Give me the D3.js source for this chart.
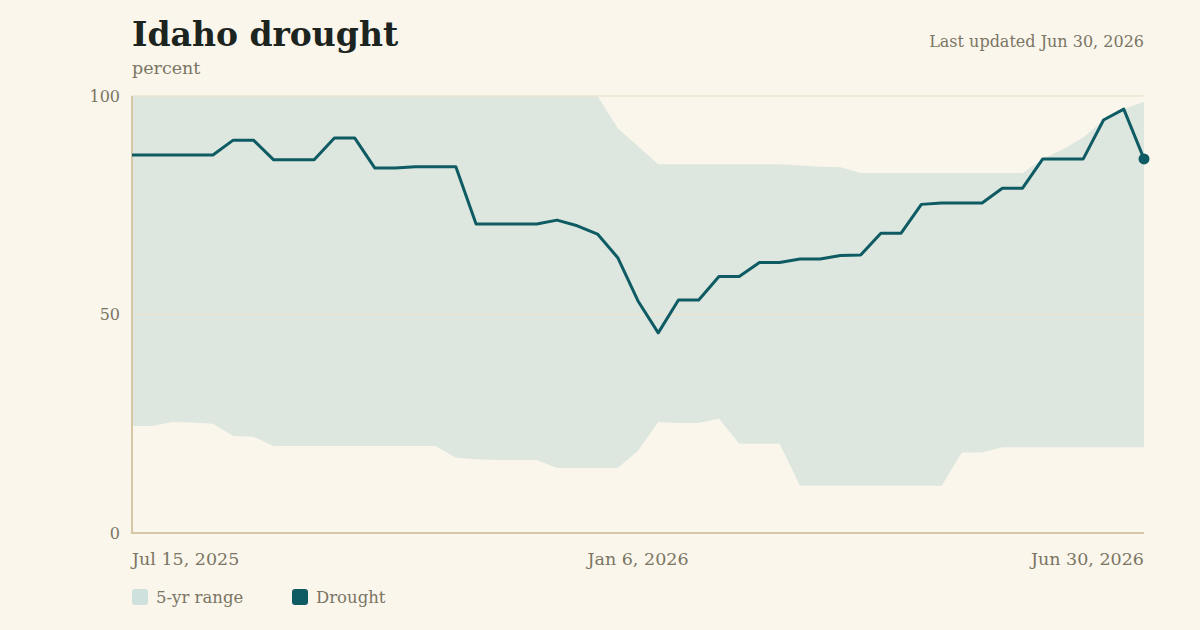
<!DOCTYPE html>
<html>
<head>
<meta charset="utf-8">
<script src="https://cdn.jsdelivr.net/npm/d3@7"></script>
<style>
  body { margin: 0; background: #faf6ec; }
  svg { display: block; font-family: "DejaVu Serif", "Liberation Serif", serif; }
</style>
</head>
<body>
<svg width="1200" height="630"></svg>
<script>
// weekly readings, Jul 15 2025 .. Jun 30 2026
const weeks = d3.timeDay.range(new Date(2025, 6, 15), new Date(2026, 6, 1), 7);

const drought = [86.5, 86.5, 86.5, 86.5, 86.5, 89.9, 89.9, 85.4, 85.4, 85.4,
  90.4, 90.4, 83.5, 83.5, 83.8, 83.8, 83.8, 70.7, 70.7, 70.7,
  70.7, 71.6, 70.3, 68.4, 63.0, 53.1, 45.8, 53.3, 53.3, 58.7,
  58.7, 61.9, 61.9, 62.7, 62.7, 63.5, 63.6, 68.6, 68.6, 75.2,
  75.5, 75.5, 75.5, 78.9, 78.9, 85.6, 85.6, 85.6, 94.5, 97.0, 85.6];

const rangeMax = [100, 100, 100, 100, 100, 100, 100, 100, 100, 100,
  100, 100, 100, 100, 100, 100, 100, 100, 100, 100,
  100, 100, 100, 100, 92.6, 88.5, 84.4, 84.4, 84.4, 84.4,
  84.4, 84.4, 84.4, 84.1, 83.8, 83.7, 82.4, 82.4, 82.4, 82.4,
  82.4, 82.4, 82.4, 82.4, 82.4, 85.6, 87.8, 90.5, 94.5, 97.0, 98.7];

const rangeMin = [24.5, 24.5, 25.4, 25.3, 25.0, 22.2, 22.0, 19.9, 19.9, 19.9,
  19.9, 19.9, 19.9, 19.9, 19.9, 19.9, 17.2, 16.9, 16.7, 16.7,
  16.7, 14.9, 14.9, 14.9, 14.9, 18.8, 25.4, 25.2, 25.2, 26.2,
  20.4, 20.4, 20.4, 10.8, 10.8, 10.8, 10.8, 10.8, 10.8, 10.8,
  10.8, 18.4, 18.4, 19.6, 19.6, 19.6, 19.6, 19.6, 19.6, 19.6, 19.6];

const yTicks = [0, 50, 100];
const xTicks = [new Date(2025, 6, 15), new Date(2026, 0, 6), new Date(2026, 5, 30)];
const legendItems = ['5-yr range', 'Drought'];

const svg = d3.select('svg');
const fmt = d3.timeFormat('%b %-d, %Y');

const x = d3.scaleTime().domain([weeks[0], weeks[weeks.length - 1]]).range([132, 1144]);
const y = d3.scaleLinear().domain([0, 100]).range([533, 96]);

const rows = weeks.map((d, i) => ({ date: d, v: drought[i], lo: rangeMin[i], hi: rangeMax[i] }));

// band
svg.append('path')
  .datum(rows)
  .attr('fill', '#dde7df')
  .attr('d', d3.area().x(d => x(d.date)).y0(d => y(d.lo)).y1(d => y(d.hi)));

// grid
svg.selectAll('.grid').data([50, 100])
  .enter().append('line')
  .attr('x1', 132).attr('x2', 1144)
  .attr('y1', d => y(d)).attr('y2', d => y(d))
  .attr('stroke', '#ece4d2')
  .attr('stroke-width', 1.5);

// axes lines
svg.append('line').attr('x1', 132).attr('x2', 132).attr('y1', 96).attr('y2', 533)
  .attr('stroke', '#d6c8a6').attr('stroke-width', 2);
svg.append('line').attr('x1', 131).attr('x2', 1144).attr('y1', 533).attr('y2', 533)
  .attr('stroke', '#d6c8a6').attr('stroke-width', 2);

// drought line
svg.append('path')
  .datum(rows)
  .attr('fill', 'none')
  .attr('stroke', '#0e5b63')
  .attr('stroke-width', 3)
  .attr('stroke-linejoin', 'round')
  .attr('d', d3.line().x(d => x(d.date)).y(d => y(d.v)));

const last = rows[rows.length - 1];
svg.append('circle')
  .attr('cx', x(last.date)).attr('cy', y(last.v)).attr('r', 5.5)
  .attr('fill', '#0e5b63');

// tick labels
svg.selectAll('.ytick').data(yTicks)
  .enter().append('text')
  .attr('x', 120).attr('y', d => y(d)).attr('dy', '0.35em')
  .attr('text-anchor', 'end')
  .attr('font-size', 16).attr('fill', '#7b7563')
  .text(d => d);

svg.selectAll('.xtick').data(xTicks)
  .enter().append('text')
  .attr('x', d => x(d)).attr('y', 565)
  .attr('text-anchor', (d, i) => ['start', 'middle', 'end'][i])
  .attr('font-size', 17.5).attr('fill', '#7b7563')
  .text(d => fmt(d));

// titles
svg.append('text').attr('x', 132).attr('y', 46)
  .attr('font-size', 33).attr('font-weight', 'bold').attr('fill', '#1c2420')
  .text('Idaho drought');
svg.append('text').attr('x', 132).attr('y', 74)
  .attr('font-size', 17.5).attr('fill', '#7b7563')
  .text('percent');
svg.append('text').attr('x', 1144).attr('y', 47)
  .attr('text-anchor', 'end')
  .attr('font-size', 16).attr('fill', '#7b7563')
  .text('Last updated Jun 30, 2026');

// legend
const lg = svg.selectAll('.lg').data(legendItems)
  .enter().append('g')
  .attr('transform', (d, i) => `translate(${132 + i * 160},589)`);
lg.append('rect').attr('width', 16).attr('height', 16).attr('rx', 3)
  .attr('fill', (d, i) => i ? '#0e5b63' : '#cfe1dd');
lg.append('text').attr('x', 24).attr('y', 14)
  .attr('font-size', 16.5).attr('fill', '#7b7563')
  .text(d => d);
</script>
</body>
</html>
